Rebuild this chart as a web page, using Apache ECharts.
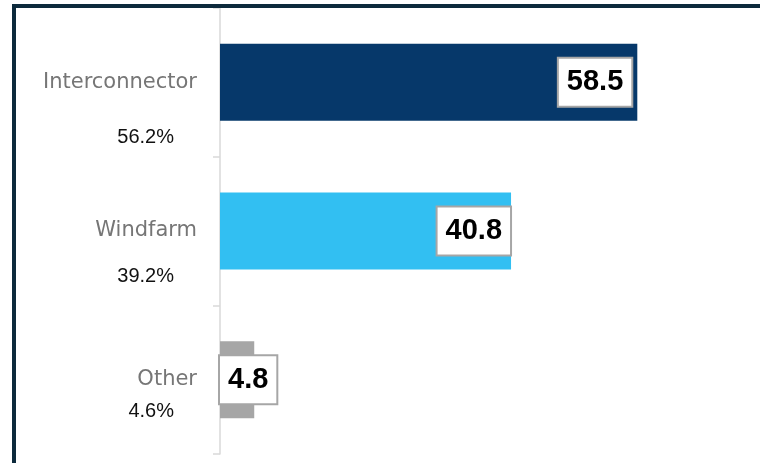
<!DOCTYPE html>
<html>
<head>
<meta charset="utf-8">
<script src="https://cdn.jsdelivr.net/npm/echarts@6/dist/echarts.min.js"></script>
<style>html,body{margin:0;padding:0;background:#fff;}#c{width:760px;height:463px;}</style>
</head>
<body>
<div id="c"></div>
<script>
var categories = ['Interconnector', 'Windfarm', 'Other'];
var values = [58.5, 40.8, 4.8];
var shareLabels = ['56.2%', '39.2%', '4.6%'];

var barColors = ['#06386a', '#32bff2', '#a6a6a6'];
var labelPos = [
  {position: 'insideRight', distance: 6},
  {position: 'insideRight', distance: 1},
  {position: 'insideLeft', distance: 0}
];
var sharePad = [111, 90, 63];
var shareRich = {};
sharePad.forEach(function (p, i) {
  shareRich['p' + i] = {padding: [p, 0, 0, 0], color: '#111', fontSize: 20, fontFamily: 'Liberation Sans'};
});

var chart = echarts.init(document.getElementById('c'));
chart.setOption({
  animation: false,
  backgroundColor: '#fff',
  graphic: [{
    type: 'rect',
    shape: {x: 14, y: 6, width: 800, height: 520},
    style: {fill: 'none', stroke: '#0d2a3c', lineWidth: 4},
    z: 100
  }],
  grid: {left: 220, right: 5, top: 8, bottom: 9},
  xAxis: {
    type: 'value', min: 0, max: 75, show: false
  },
  yAxis: [{
    type: 'category',
    data: categories,
    inverse: true,
    axisLine: {show: true, lineStyle: {color: '#d9d9d9', width: 1.5}},
    axisTick: {show: true, length: 7, lineStyle: {color: '#d9d9d9', width: 1.5}},
    axisLabel: {margin: 23, color: '#767676', fontSize: 21, fontFamily: 'DejaVu Sans'}
  }, {
    type: 'category',
    position: 'left',
    data: shareLabels,
    inverse: true,
    axisLine: {show: false},
    axisTick: {show: false},
    axisLabel: {
      margin: 46,
      formatter: function (v, i) { return '{p' + i + '|' + v + '}'; },
      rich: shareRich
    }
  }],
  series: [{
    type: 'bar',
    barWidth: 77,
    data: values.map(function (v, i) {
      return {
        value: v,
        itemStyle: {color: barColors[i]},
        label: {position: labelPos[i].position, distance: labelPos[i].distance}
      };
    }),
    label: {
      show: true,
      color: '#000',
      fontSize: 29,
      fontWeight: 'bold',
      fontFamily: 'Liberation Sans',
      backgroundColor: '#fff',
      borderColor: '#a6a6a6',
      borderWidth: 2,
      lineHeight: 29,
      padding: [9, 8, 9, 8]
    }
  }]
});
</script>
</body>
</html>
